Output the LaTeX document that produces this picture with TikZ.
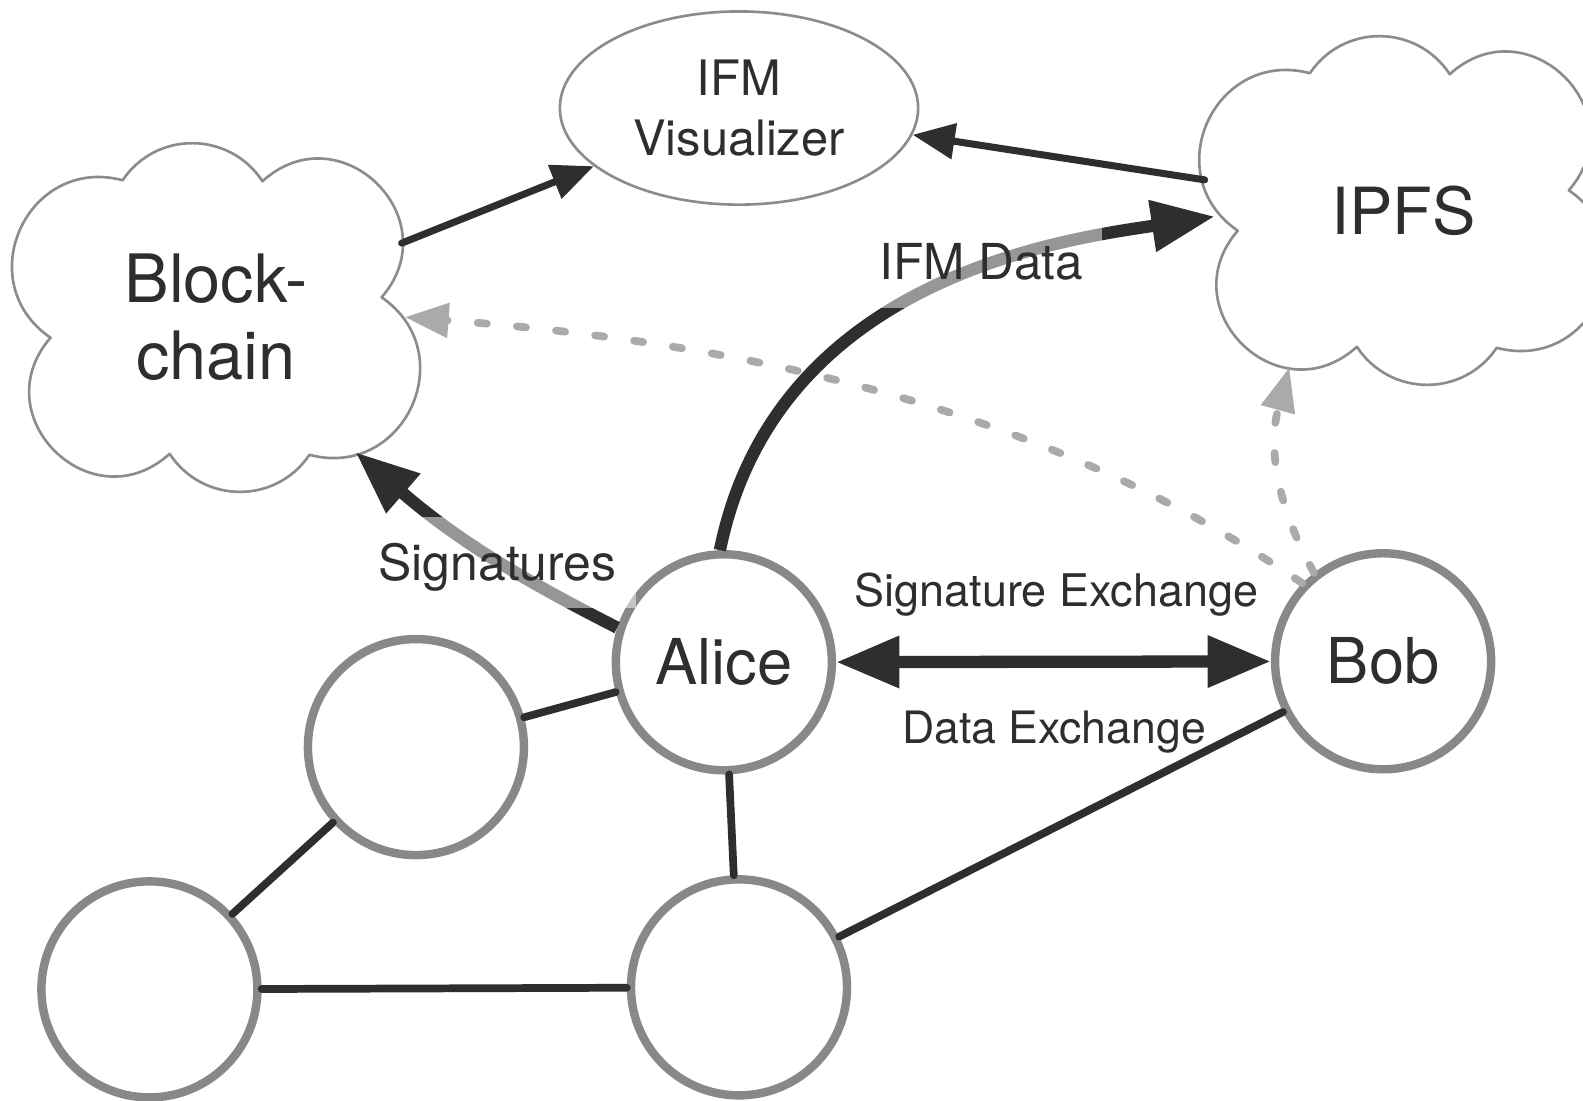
\documentclass[tikz,border=0pt]{standalone}
\usepackage{fontspec}
\setmainfont{TeX Gyre Heros}
\usetikzlibrary{shapes.geometric,arrows.meta}
\definecolor{ink}{HTML}{2E2E2E}
\definecolor{ring}{HTML}{888888}
\definecolor{rim}{HTML}{8C8C8C}
\definecolor{ghost}{HTML}{AAAAAA}

\begin{document}
\begin{tikzpicture}[
  x={(0.010096cm,0)}, y={(0,-0.010096cm)},
  peer/.style={circle, draw=ring, line width=2.4pt, minimum size=61.5pt,
    inner sep=0pt, text=ink, font=\fontsize{18}{20}\selectfont},
  % invisible round hull that carries the text and the connector anchors
  hull/.style={circle, minimum size=110pt, inner sep=0pt, text=ink, align=center},
  link/.style={draw=ink, line width=2.2pt, line cap=round},
  lightarrow/.style={draw=ink, line width=2pt, line cap=round,
    -{Triangle[length=12pt,width=9.9pt]}},
  heavy/.style={draw=ink, line width=3.5pt,
    -{Triangle[length=18pt,width=14pt]}},
  hint/.style={draw=ghost, line width=2.2pt, line cap=round,
    dash pattern=on 2.6pt off 8.6pt, -{Triangle[length=12.5pt,width=9.5pt]}},
  tag/.style={text=ink, inner sep=0pt},
  veil/.style={fill=white, fill opacity=0.5, text opacity=1,
    inner xsep=5.5pt, inner ysep=5.3pt, text height=12.5pt, text depth=2.6pt},
  % six round lobes, point symmetric about the centre
  cloudpuffs/.pic={
    \draw[rim, line width=0.75pt, line join=round] (-92.5,-136)
      .. controls (-59.2,-185.4) and (13.2,-184.8) .. (46,-135)
      .. controls (122.7,-204.5) and (231.6,-98.3) .. (164,-20)
      .. controls (244.4,35.3) and (186.9,160.8) .. (92.5,136)
      .. controls (59.2,185.4) and (-13.2,184.8) .. (-46,135)
      .. controls (-122.7,204.5) and (-231.6,98.3) .. (-164,20)
      .. controls (-244.4,-35.3) and (-186.9,-160.8) .. (-92.5,-136) -- cycle;
  }
]
\path[use as bounding box, fill=white] (0,0) rectangle (1568,1090.5);

% services
\node[ellipse, draw=rim, line width=0.75pt, minimum width=102pt,
  minimum height=55pt, inner sep=0pt, text=ink, align=center,
  font=\fontsize{13.9}{17.2}\selectfont] (viz) at (732,107) {IFM\\Visualizer};
\node[hull, font=\fontsize{19}{22}\selectfont] (bc) at (214,314.5) {Block-\\chain};
\pic at (bc.center) {cloudpuffs};
\node[hull, font=\fontsize{18.5}{22}\selectfont] (ipfs) at (1390,208.5) {IPFS};
\pic at (ipfs.center) {cloudpuffs};

% peers
\node[peer] (alice) at (717,656) {Alice};
\node[peer] (bob) at (1370,655) {Bob};
\node[peer] (p1) at (412,740) {};
\node[peer] (p2) at (148,980) {};
\node[peer] (p3) at (732,978) {};

% peer network
\draw[link] (alice) -- (p1);
\draw[link] (p1) -- (p2);
\draw[link] (p2) -- (p3);
\draw[link] (alice) -- (p3);
\draw[link] (bob) -- (p3);

% exchanges between the two parties
\draw[heavy, {Triangle[length=18pt,width=14pt]}-{Triangle[length=18pt,width=14pt]}]
  (alice) -- (bob);
\draw[heavy, shorten >=-1.5pt] (alice.92) .. controls (768,275) and (1054,237) .. (ipfs.182);
\draw[heavy] (alice.162) to[bend left=7] (bc.-44.4);

% reads by the visualizer
\draw[lightarrow, shorten <=1.7pt] (bc) -- (viz);
\draw[lightarrow, shorten <=2pt] (ipfs) -- (viz);

% optional paths from Bob
\draw[hint, shorten >=-1.5pt] (bob.136) .. controls (1045,410) and (755,341) .. (bc.0);
\draw[hint] (bob.128) to[bend left=22] (ipfs.-126);

% labels
\node[tag, veil, anchor=base, font=\fontsize{14.1}{16}\selectfont] (ifmlbl) at (971.9,277.3) {IFM Data};
\node[tag, veil, anchor=base, font=\fontsize{14.2}{16}\selectfont] (siglbl) at (492.8,574.5) {Signatures};
\node[tag, anchor=base, font=\fontsize{12.8}{15}\selectfont] (sxlbl) at (1046.6,600.9) {Signature Exchange};
\node[tag, anchor=base, font=\fontsize{12.7}{15}\selectfont] (dxlbl) at (1044,736.3) {Data Exchange};
\end{tikzpicture}
\end{document}
